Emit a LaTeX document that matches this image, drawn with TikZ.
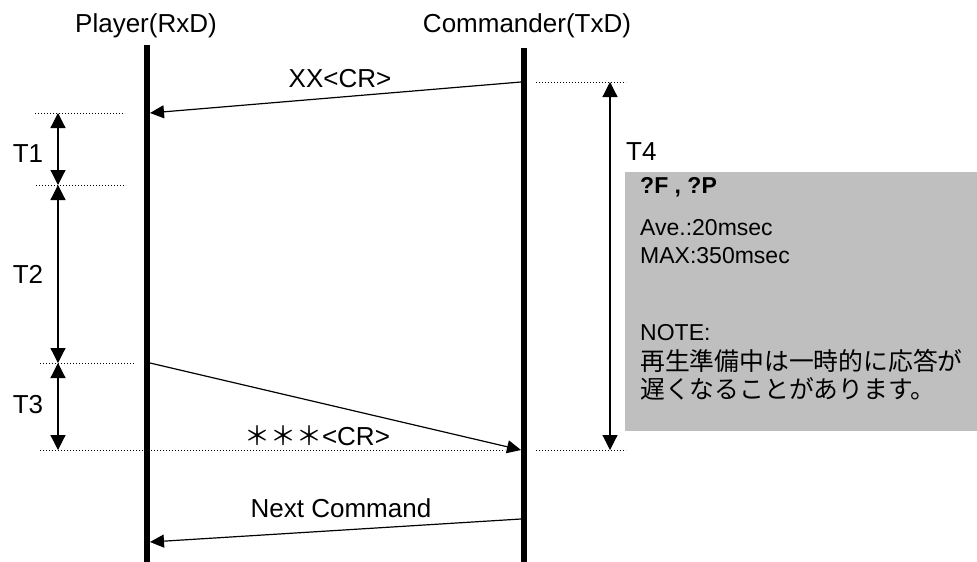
\documentclass[tikz,border=0pt]{standalone}
\usepackage{fontspec}
\setmainfont{Liberation Sans}
\newfontfamily\jpfont{Noto Sans CJK JP}
\usetikzlibrary{arrows.meta}
\usetikzlibrary{positioning}

\begin{document}
\begin{tikzpicture}[
    x=1pt, y=-1pt,
    lifeline/.style={line width=5.5pt},
    msg/.style={line width=1.2pt, -{Triangle[length=14pt, width=13pt]}},
    span/.style={line width=1.2pt, {Triangle[length=15pt, width=15pt]}-{Triangle[length=15pt, width=15pt]}},
    guide/.style={line width=1pt, dash pattern=on 1.2pt off 1.8pt},
    big/.style={font=\fontsize{26}{30}\selectfont, inner sep=0pt, anchor=base},
    small/.style={font=\fontsize{23}{27}\selectfont, inner sep=0pt, anchor=base west},
    jp/.style={font=\jpfont\fontsize{24.8}{28}\selectfont, inner sep=0pt, anchor=base west}
]
\useasboundingbox (0,0) rectangle (977,562);

% --- Note box ---
\node[fill=gray!50, inner sep=0pt, minimum width=352pt, minimum height=259pt, anchor=north west] (note) at (625,172) {};

% --- Lifelines ---
\node[big] (player) at (146,32) {Player(RxD)};
\node[big] (commander) at (527,32) {Commander(TxD)};
\coordinate (plyTop) at (147,45);
\coordinate (plyBot) at (147,562);
\coordinate (cmdTop) at (524,48);
\coordinate (cmdBot) at (524,562);
\draw[lifeline] (plyTop) -- (plyBot);
\draw[lifeline] (cmdTop) -- (cmdBot);

% --- Message end points ---
\coordinate (xxS) at (521,82);
\coordinate (xxE) at (150,113);
\coordinate (ansS) at (150,363);
\coordinate (ansE) at (521,450);
\coordinate (nxtS) at (521,519);
\coordinate (nxtE) at (150,542);

% --- Messages ---
\draw[msg] (xxS) -- (xxE);
\draw[msg] (ansS) -- (ansE);
\draw[msg] (nxtS) -- (nxtE);
\node[big] (xxLbl) at (340,87) {XX<CR>};
\node[big] (ansLbl) at (317,445) {{\jpfont ＊＊＊}<CR>};
\node[big] (nxtLbl) at (341,517) {Next Command};

% --- Guide lines ---
\foreach \y/\xa/\xb in {113/35/125, 185/36/126, 363/40/135, 450/40/505}
    \draw[guide] (\xa,\y) -- (\xb,\y);
\foreach \y in {82, 450}
    \draw[guide] (536,\y) -- (626,\y);

% --- Time spans ---
\foreach \name/\ya/\yb/\yl in {T1/113/185/162, T2/185/363/283, T3/363/450/413}
{
    \coordinate (\name a) at (58,\ya);
    \coordinate (\name b) at (58,\yb);
    \draw[span] (\name a) -- (\name b);
    \node[big] (\name lbl) at (28,\yl) {\name};
}
\coordinate (T4a) at (610,82);
\coordinate (T4b) at (610,450);
\draw[span] (T4a) -- (T4b);
\node[big, anchor=base west] (T4lbl) at (626,160) {T4};

% --- Note text ---
\node[small, font=\fontsize{23}{27}\selectfont\bfseries] (cmds) at (640,193) {?F , ?P};
\node[small] (ave) at (640,235) {Ave.:20msec};
\node[small] (max) at (640,263) {MAX:350msec};
\node[small] (nte) at (640,340) {NOTE:};
\node[jp] (jpa) at (640,370) {再生準備中は一時的に応答が};
\node[jp] (jpb) at (640,398) {遅くなることがあります。};

\end{tikzpicture}
\end{document}
